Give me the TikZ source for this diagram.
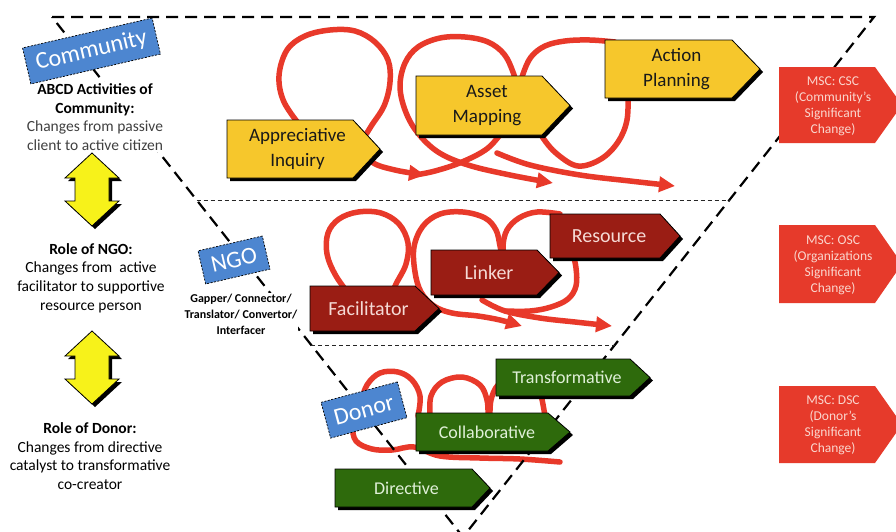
\documentclass[tikz,border=0pt]{standalone}
\usepackage{fontspec}
\setmainfont{Carlito}
\usetikzlibrary{arrows.meta}
\definecolor{ybox}{HTML}{F6C72C}
\definecolor{rbox}{HTML}{9A1D14}
\definecolor{gbox}{HTML}{2E6A0C}
\definecolor{mscred}{HTML}{E63A2B}
\definecolor{msctxt}{HTML}{FAD6CE}
\definecolor{rtext}{HTML}{F5DAD5}
\definecolor{gtext}{HTML}{E0F0D8}
\definecolor{tagblue}{HTML}{4D86D0}
\definecolor{scrib}{HTML}{E8392A}
\definecolor{arrowyellow}{HTML}{F7F21A}
\definecolor{descgray}{HTML}{404040}
\newcommand\sigbox[8]{%
  \fill[black,shift={(3,3)}] (#3,#4) -- ({#5-#7},#4) -- (#5,{(#4+#6)/2}) -- ({#5-#7},#6) -- (#3,#6) -- cycle;
  \filldraw[#2] (#3,#4) -- ({#5-#7},#4) -- (#5,{(#4+#6)/2}) -- ({#5-#7},#6) -- (#3,#6) -- cycle;
  \node[#2 text] (#1) at ({(#3+#5)/2-6},{(#4+#6)/2}) {#8};}
\newcommand\mscbox[4]{%
  \fill[mscred] (779,#2) -- (875,#2) -- (902,{(#2+#3)/2}) -- (875,#3) -- (779,#3) -- cycle;
  \node[msctext] (#1) at (833,{(#2+#3)/2+1}) {#4};}
\newcommand\yarrow[1]{%
  \fill[black,shift={(3,3)}] (92,#1) -- (119,{#1+25}) -- (109,{#1+25}) -- (109,{#1+48}) -- (119,{#1+48}) -- (92,{#1+73}) -- (65,{#1+48}) -- (75,{#1+48}) -- (75,{#1+25}) -- (65,{#1+25}) -- cycle;
  \filldraw[dblarrow] (92,#1) -- (119,{#1+25}) -- (109,{#1+25}) -- (109,{#1+48}) -- (119,{#1+48}) -- (92,{#1+73}) -- (65,{#1+48}) -- (75,{#1+48}) -- (75,{#1+25}) -- (65,{#1+25}) -- cycle;}
\begin{document}
\begin{tikzpicture}[x=1pt,y=-1pt,
 thickdash/.style={draw=black, line width=2.2pt, dash pattern=on 12pt off 7pt},
 thindash/.style={draw=black!85, line width=0.9pt, dash pattern=on 4pt off 3pt},
 scribble/.style={draw=scrib, line width=5.5pt, line cap=round, line join=round},
 tipped/.style={-{Triangle[length=16pt,width=15pt]}},
 yb/.style={fill=ybox, draw=black, line width=0.8pt},
 yb text/.style={text=black!90, font=\fontsize{19}{25}\selectfont, align=center},
 rb/.style={fill=rbox, draw=black, line width=0.8pt},
 rb text/.style={text=rtext, font=\fontsize{20}{24}\selectfont, align=center},
 gb/.style={fill=gbox, draw=black, line width=0.8pt},
 gb text/.style={text=gtext, font=\fontsize{18}{22}\selectfont, align=center},
 msctext/.style={text=msctxt, font=\fontsize{13.5}{16}\selectfont, align=center},
 tag/.style={fill=tagblue, draw=black, line width=0.7pt, dash pattern=on 2pt off 1.5pt, text=white, font=\fontsize{24}{28}\selectfont, inner sep=0pt},
 lefttext/.style={align=center, font=\fontsize{15.5}{18.7}\selectfont, inner sep=1pt},
 dblarrow/.style={fill=arrowyellow, draw=black, line width=0.8pt},
]
\fill[white] (0,0) rectangle (896,531);
\useasboundingbox (0,0) rectangle (896,531);

% ---------- red scribbles, row 1
\draw[scribble] plot[smooth,tension=0.6] coordinates {(505,128) (488,148) (462,162) (435,171) (415,175)};
\draw[scribble,tipped] plot[smooth,tension=0.6] coordinates {(302,128) (284,102) (279,76) (287,50) (305,36) (330,30) (355,31) (375,42) (388,60) (390,82) (384,106) (370,128) (362,145) (372,162) (395,170) (425,175)};
\draw[scribble,tipped] plot[smooth,tension=0.6] coordinates {(518,90) (513,72) (504,54) (488,42) (465,37) (440,38) (418,47) (405,63) (400,86) (405,110) (417,132) (438,152) (468,165) (510,175) (553,183)};
\draw[scribble] plot[smooth,tension=0.6] coordinates {(518,92) (523,74) (531,57) (545,46) (565,41) (590,40) (615,42)};
\draw[scribble] plot[smooth,tension=0.6] coordinates {(535,122) (543,138) (557,154) (578,166) (601,159) (618,142) (627,120) (628,92)};
\draw[scribble,tipped] plot[smooth,tension=0.6] coordinates {(497,153) (530,165) (580,175) (630,181) (675,186)};

% ---------- red scribbles, row 2
\draw[scribble] plot[smooth,tension=0.6] coordinates {(352,298) (336,276) (327,254) (328,233) (339,219) (358,212) (381,213) (399,224) (408,243) (406,264) (396,284) (390,298)};
\draw[scribble,tipped] plot[smooth,tension=0.6] coordinates {(503,262) (500,246) (496,230) (485,218) (463,212) (440,214) (423,226) (414,247) (415,272) (421,292) (434,306) (452,313) (478,316) (500,320) (522,326)};
\draw[scribble] plot[smooth,tension=0.6] coordinates {(505,262) (503,246) (507,230) (519,218) (537,212) (560,214)};
\draw[scribble] plot[smooth,tension=0.6] coordinates {(572,250) (576,268) (576,286) (568,299) (551,307) (530,311) (505,311)};
\draw[scribble,tipped] plot[smooth,tension=0.6] coordinates {(482,300) (505,311) (540,318) (575,322) (612,326)};

% ---------- red scribbles, row 3
\draw[scribble] plot[smooth,tension=0.6] coordinates {(418,416) (420,396) (412,380) (398,372) (380,373) (367,385) (360,405) (353,425) (356,441) (372,449) (392,450) (414,447) (440,456) (480,458) (520,459) (560,462)};
\draw[scribble] plot[smooth,tension=0.6] coordinates {(430,416) (431,396) (442,382) (462,377) (480,385) (487,400) (488,416)};
\draw[scribble] plot[smooth,tension=0.6] coordinates {(490,416) (491,400) (498,385) (515,375) (535,378) (541,395) (545,416)};

% ---------- triangle and level dividers
\coordinate (tl) at (52,17);
\coordinate (tr) at (874,17);
\coordinate (apex) at (463,537);
\draw[thickdash] (tl) -- (tr) -- (apex) -- cycle;
\coordinate (h1l) at (196.6,200);
\coordinate (h1r) at (729,200);
\coordinate (h2l) at (311,345);
\coordinate (h2r) at (615,345);
\draw[thindash] (h1l) -- (h1r);
\draw[thindash] (h2l) -- (h2r);

% ---------- stage boxes
\sigbox{ai}{yb}{227}{120}{380}{178}{27}{Appreciative\\Inquiry}
\sigbox{am}{yb}{416}{76}{570}{135}{28}{Asset\\Mapping}
\sigbox{ap}{yb}{605}{40}{760}{98}{28}{Action\\Planning}
\sigbox{fa}{rb}{310}{286}{439}{331}{24}{Facilitator}
\sigbox{li}{rb}{431}{250}{559}{295}{22}{Linker}
\sigbox{re}{rb}{550}{214}{680}{258}{20}{Resource}
\sigbox{tf}{gb}{496}{359}{650}{396}{20}{Transformative}
\sigbox{co}{gb}{416}{413}{570}{451}{22}{Collaborative}
\sigbox{di}{gb}{335}{469}{490}{507}{18}{Directive}

% ---------- MSC boxes
\mscbox{csc}{67}{143}{MSC: CSC\\(Community’s\\Significant\\Change)}
\mscbox{osc}{225}{303}{MSC: OSC\\(Organizations\\Significant\\Change)}
\mscbox{dsc}{386}{463}{MSC: DSC\\(Donor’s\\Significant\\Change)}

% ---------- left column texts
\node[lefttext, fill=white] (commtxt) at (95,117) {\textbf{ABCD Activities of}\\\textbf{Community:}\\\textcolor{descgray}{Changes from passive}\\\textcolor{descgray}{client to active citizen}};
\node[lefttext] (ngotxt) at (91,278) {\textbf{Role of NGO:}\\Changes from\ \ active\\facilitator to supportive\\resource person};
\node[lefttext] (donortxt) at (90,456) {\textbf{Role of Donor:}\\Changes from directive\\catalyst to transformative\\co-creator};
\node[font=\bfseries\fontsize{12}{16}\selectfont, align=center, fill=white, inner sep=1pt] (ngorole) at (241,314) {Gapper/ Connector/\\Translator/ Convertor/\\Interfacer};

% ---------- tags
\node[tag, minimum width=133pt, minimum height=37pt, rotate=13] (tcomm) at (91.5,51) {Community};
\node[tag, minimum width=66pt, minimum height=34pt, rotate=13] (tngo) at (234,260) {NGO};
\node[tag, minimum width=79pt, minimum height=37pt, rotate=15] (tdonor) at (364,410) {Donor};

% ---------- yellow double arrows
\yarrow{153}
\yarrow{331}
\end{tikzpicture}
\end{document}
